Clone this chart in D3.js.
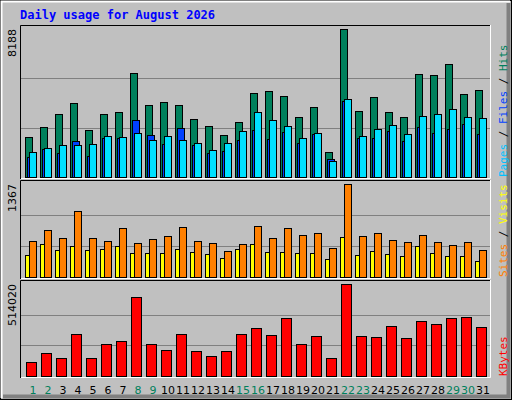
<!DOCTYPE html>
<html><head><meta charset="utf-8">
<script src="https://cdn.jsdelivr.net/npm/d3@7"></script>
<style>body{margin:0;background:#fff}</style>
</head><body><div id="main"></div>
<script>
var days = d3.range(1, 32)
var weekend_days = [1, 2, 8, 9, 15, 16, 22, 23, 29, 30]
var hits = [2201, 2755, 3476, 4086, 2589, 3476, 3587, 5749, 3975, 4141, 3975, 3199, 2811, 2312, 3033, 4640, 4751, 4474, 3310, 3864, 1369, 8188, 3642, 4419, 3587, 3310, 5694, 5638, 6248, 4585, 4807]
var files = [1369, 1591, 1757, 1757, 1813, 2256, 2201, 2423, 2035, 2256, 2035, 1868, 1480, 1868, 2534, 3587, 3143, 2811, 2146, 2423, 870, 4308, 2256, 2644, 2866, 2367, 3365, 3476, 3753, 3310, 3254]
var pages = [1092, 1560, 1314, 1979, 1148, 2146, 2146, 3143, 2312, 1813, 2700, 1757, 1314, 1425, 2035, 2589, 2090, 2478, 1868, 2400, 981, 4197, 2146, 2146, 2534, 1979, 2755, 2423, 2644, 2922, 2367]
var visits = [535, 684, 580, 966, 580, 535, 713, 505, 565, 609, 728, 535, 505, 386, 490, 743, 580, 713, 624, 654, 431, 1367, 609, 654, 550, 520, 624, 520, 476, 520, 401]
var sites = [327, 490, 401, 461, 401, 416, 461, 357, 357, 357, 416, 372, 342, 282, 416, 490, 372, 372, 357, 357, 267, 594, 327, 386, 342, 312, 461, 357, 312, 312, 238]
var kbytes = [79080, 129918, 101675, 237241, 101675, 180755, 197701, 440591, 180755, 146864, 237241, 141215, 112972, 141215, 237241, 265484, 231593, 321970, 180755, 225944, 101675, 514020, 225944, 220295, 276781, 214647, 305024, 288079, 321970, 327619, 271133]

var w = 512
var h = 400
var svg = d3.select('div#main').append('svg')
  .attr('width', w).attr('height', h)
  .style('display', 'block')

// frame
svg.append('rect').attr('x', 0).attr('y', 0).attr('width', w).attr('height', h).attr('fill', '#c0c0c0')
svg.append('rect').attr('x', 0.5).attr('y', 0.5).attr('width', w - 1).attr('height', h - 1).attr('fill', 'none').attr('stroke', '#000')
svg.append('path').attr('d', 'M1.5,398 V1.5 H510').attr('fill', 'none').attr('stroke', '#fff').attr('stroke-width', 2)
svg.append('path').attr('d', 'M3,396.5 H508.5 V3').attr('fill', 'none').attr('stroke', '#808080').attr('stroke-width', 4)

svg.append('text').text('Daily usage for August 2026')
  .attr('x', 20).attr('y', 19)
  .attr('fill', '#0000ff')
  .style('font-family', 'DejaVu Sans Mono').style('font-weight', 'bold').style('font-size', '12px')

var scale_x = d3.scaleLinear().domain([1, 32]).range([25, 25 + 31 * 15])

function panel (y0, y1, maxY, max, label, rightLabels) {
  svg.append('path').attr('d', 'M20.5,' + y1 + ' V' + (y0 + 0.5) + ' H490').attr('fill', 'none').attr('stroke', '#000')
  svg.append('path').attr('d', 'M21,' + (y1 - 0.5) + ' H490.5 V' + y0).attr('fill', 'none').attr('stroke', '#fff')
  var base = y1 - 2
  var scale_y = d3.scaleLinear().domain([0, max]).range([base, maxY])
  var step = (base - maxY) / 3
  ;[1, 2].forEach(function (i) {
    svg.append('line').attr('x1', 21).attr('x2', 490)
      .attr('y1', Math.round(base - step * i) + 0.5).attr('y2', Math.round(base - step * i) + 0.5)
      .attr('stroke', '#808080')
  })
  svg.append('text').text(label)
    .attr('transform', 'translate(16,' + maxY + ') rotate(-90)')
    .attr('text-anchor', 'end')
    .style('font-family', 'DejaVu Sans').style('font-size', '11px')
  var t = svg.append('text')
    .attr('transform', 'translate(507,' + (y1 - 2) + ') rotate(-90)')
    .style('font-family', 'DejaVu Sans Mono').style('font-size', '11px')
  rightLabels.forEach(function (r, i) {
    if (i > 0) t.append('tspan').text(' / ').attr('fill', '#000')
    t.append('tspan').text(r[0]).attr('fill', r[1])
  })
  return scale_y
}

function bars (scale_y, data, off, bw, color) {
  svg.append('g').selectAll('rect').data(data).enter().append('rect')
    .attr('x', function (d, i) { return scale_x(days[i]) + off + 0.5 })
    .attr('y', function (d) { return Math.round(scale_y(d)) + 0.5 })
    .attr('width', bw)
    .attr('height', function (d) { return scale_y(0) - Math.round(scale_y(d)) })
    .attr('fill', color).attr('stroke', '#000')
}

var y_top = panel(25, 179, 29, 8188, '8188', [['Pages', '#00c0ff'], ['Files', '#0040ff'], ['Hits', '#00805c']])
bars(y_top, hits, 0, 7, '#00805c')
bars(y_top, pages, 2, 7, '#0040ff')
bars(y_top, files, 4, 7, '#00e0ff')

var y_mid = panel(180, 279, 184, 1367, '1367', [['Sites', '#ff8000'], ['Visits', '#ffff00']])
bars(y_mid, sites, 0, 7, '#ffff00')
bars(y_mid, visits, 4, 7, '#ff8000')

var y_bot = panel(280, 378, 284, 514020, '514020', [['KBytes', '#ff0000']])
bars(y_bot, kbytes, 1, 10, '#ff0000')

svg.append('g').selectAll('text').data(days).enter().append('text')
  .text(function (d) { return d })
  .attr('x', function (d) { return scale_x(d) + 8 })
  .attr('y', 394)
  .attr('text-anchor', 'middle')
  .attr('fill', function (d) { return weekend_days.indexOf(d) >= 0 ? '#00805c' : '#000' })
  .style('font-family', 'DejaVu Sans').style('font-size', '11px')
</script>
</body></html>
